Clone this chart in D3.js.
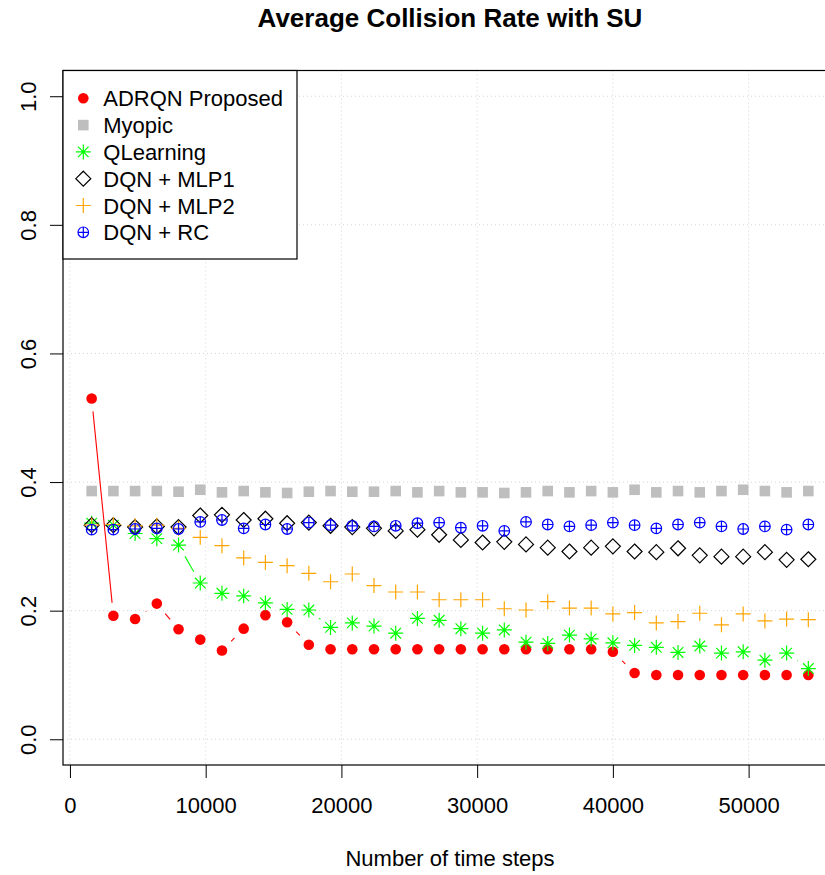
<!DOCTYPE html>
<html>
<head>
<meta charset="utf-8">
<script src="https://cdn.jsdelivr.net/npm/d3@7"></script>
<style>
  body { margin: 0; background: #fff; }
  svg text { font-family: "Liberation Sans", Arial, Helvetica, sans-serif; fill: #000; }
</style>
</head>
<body>
<div id="chart"></div>
<script>
// time steps on the x axis
const steps = [1600, 3200, 4800, 6400, 8000, 9600, 11200, 12800, 14400, 16000,
  17600, 19200, 20800, 22400, 24000, 25600, 27200, 28800, 30400, 32000,
  33600, 35200, 36800, 38400, 40000, 41600, 43200, 44800, 46400, 48000,
  49600, 51200, 52800, 54400];

const adrqn = [0.530, 0.192, 0.187, 0.211, 0.171, 0.155, 0.138, 0.172, 0.193, 0.182,
  0.147, 0.140, 0.140, 0.140, 0.140, 0.140, 0.140, 0.140, 0.140, 0.140,
  0.140, 0.140, 0.140, 0.140, 0.136, 0.103, 0.100, 0.100, 0.100, 0.100,
  0.100, 0.100, 0.100, 0.100];

const myopic = [0.386, 0.386, 0.386, 0.386, 0.385, 0.388, 0.384, 0.386, 0.384, 0.383,
  0.385, 0.386, 0.385, 0.385, 0.386, 0.384, 0.386, 0.384, 0.384, 0.383,
  0.384, 0.386, 0.384, 0.386, 0.384, 0.388, 0.384, 0.386, 0.384, 0.386,
  0.388, 0.386, 0.384, 0.386];

const qlearning = [0.336, 0.333, 0.320, 0.312, 0.302, 0.243, 0.227, 0.223, 0.212, 0.202,
  0.201, 0.174, 0.181, 0.176, 0.165, 0.188, 0.185, 0.172, 0.165, 0.170,
  0.151, 0.149, 0.162, 0.156, 0.150, 0.146, 0.143, 0.135, 0.145, 0.134,
  0.136, 0.123, 0.134, 0.110];

const mlp1 = [0.333, 0.333, 0.330, 0.331, 0.330, 0.348, 0.349, 0.341, 0.343, 0.336,
  0.337, 0.332, 0.330, 0.328, 0.324, 0.326, 0.318, 0.310, 0.306, 0.307,
  0.303, 0.298, 0.292, 0.298, 0.300, 0.292, 0.291, 0.297, 0.286, 0.284,
  0.284, 0.291, 0.279, 0.280];

const mlp2 = [0.333, 0.334, 0.332, 0.333, 0.328, 0.314, 0.301, 0.282, 0.275, 0.270,
  0.258, 0.245, 0.257, 0.239, 0.229, 0.229, 0.217, 0.217, 0.217, 0.203,
  0.201, 0.214, 0.204, 0.204, 0.195, 0.197, 0.181, 0.183, 0.196, 0.178,
  0.195, 0.184, 0.187, 0.186];

const rc = [0.326, 0.326, 0.327, 0.328, 0.327, 0.338, 0.341, 0.328, 0.334, 0.327,
  0.337, 0.333, 0.332, 0.331, 0.332, 0.336, 0.337, 0.329, 0.332, 0.324,
  0.338, 0.334, 0.331, 0.333, 0.337, 0.333, 0.328, 0.334, 0.337, 0.331,
  0.327, 0.331, 0.326, 0.334];

const seriesNames = ["ADRQN Proposed", "Myopic", "QLearning", "DQN + MLP1", "DQN + MLP2", "DQN + RC"];
const seriesValues = [adrqn, myopic, qlearning, mlp1, mlp2, rc];
const seriesColors = ["#FF0000", "#BEBEBE", "#00FF00", "#000000", "#FFA500", "#0000FF"];
const seriesShapes = ["dot", "square", "asterisk", "diamond", "plus", "circleplus"];

const xTicks = [0, 10000, 20000, 30000, 40000, 50000];
const yTicks = [0, 0.2, 0.4, 0.6, 0.8, 1.0];

const W = 825, H = 875;
const plot = { left: 63, right: 837, top: 70.5, bottom: 765 };

const svg = d3.select("#chart").append("svg")
  .attr("width", W)
  .attr("height", H);

const x = d3.scaleLinear().domain([-512, 56512]).range([plot.left, plot.right]);
const y = d3.scaleLinear().domain([-0.04, 1.04]).range([plot.bottom, plot.top]);

// grid
svg.append("g").selectAll("line")
  .data(xTicks)
  .enter().append("line")
  .attr("x1", d => x(d)).attr("x2", d => x(d))
  .attr("y1", plot.top).attr("y2", plot.bottom)
  .attr("stroke", "#D3D3D3")
  .attr("stroke-dasharray", "1,3");

svg.append("g").selectAll("line")
  .data(yTicks)
  .enter().append("line")
  .attr("x1", plot.left).attr("x2", plot.right)
  .attr("y1", d => y(d)).attr("y2", d => y(d))
  .attr("stroke", "#D3D3D3")
  .attr("stroke-dasharray", "1,3");

// axes
const xAxis = svg.append("g")
  .attr("transform", `translate(0,${plot.bottom})`)
  .call(d3.axisBottom(x).tickValues(xTicks).tickFormat(d3.format("d"))
    .tickSize(13).tickPadding(19));
xAxis.select(".domain").remove();
xAxis.selectAll("line").attr("stroke", "#000");
xAxis.selectAll("text").style("font-size", "22px");

const yAxis = svg.append("g")
  .attr("transform", `translate(${plot.left},0)`)
  .call(d3.axisLeft(y).tickValues(yTicks).tickFormat(d3.format(".1f")).tickSize(13));
yAxis.select(".domain").remove();
yAxis.selectAll("line").attr("stroke", "#000");
yAxis.selectAll("text")
  .attr("x", 0)
  .attr("y", -27)
  .attr("dy", 0)
  .attr("transform", "rotate(-90)")
  .style("text-anchor", "middle")
  .style("font-size", "22px");

// type "b" lines: segments with a gap around each point
const gap = 13;
function drawGappedLine(g, vals, color) {
  for (let i = 0; i < vals.length - 1; i++) {
    const x1 = x(steps[i]), y1 = y(vals[i]);
    const x2 = x(steps[i + 1]), y2 = y(vals[i + 1]);
    const dist = Math.hypot(x2 - x1, y2 - y1);
    if (dist <= 2 * gap) continue;
    const ux = (x2 - x1) / dist, uy = (y2 - y1) / dist;
    g.append("line")
      .attr("x1", x1 + ux * gap).attr("y1", y1 + uy * gap)
      .attr("x2", x2 - ux * gap).attr("y2", y2 - uy * gap)
      .attr("stroke", color)
      .attr("stroke-width", 1.1);
  }
}

const R = 5.3;            // circle radius
const L = R * Math.SQRT2; // cross / diamond half size

function drawMarker(g, shape, cx, cy, color) {
  if (shape === "dot") {
    g.append("circle").attr("cx", cx).attr("cy", cy).attr("r", R).attr("fill", color);
  } else if (shape === "square") {
    g.append("rect").attr("x", cx - R).attr("y", cy - R)
      .attr("width", 2 * R).attr("height", 2 * R).attr("fill", color);
  } else if (shape === "asterisk") {
    const d = L / Math.SQRT2;
    g.append("path")
      .attr("d", `M${cx - L},${cy}H${cx + L}M${cx},${cy - L}V${cy + L}` +
        `M${cx - d},${cy - d}L${cx + d},${cy + d}M${cx - d},${cy + d}L${cx + d},${cy - d}`)
      .attr("stroke", color).attr("stroke-width", 1.2).attr("fill", "none");
  } else if (shape === "diamond") {
    g.append("path")
      .attr("d", `M${cx},${cy - L}L${cx + L},${cy}L${cx},${cy + L}L${cx - L},${cy}Z`)
      .attr("stroke", color).attr("stroke-width", 1.2).attr("fill", "none");
  } else if (shape === "plus") {
    g.append("path")
      .attr("d", `M${cx - L},${cy}H${cx + L}M${cx},${cy - L}V${cy + L}`)
      .attr("stroke", color).attr("stroke-width", 1.2).attr("fill", "none");
  } else if (shape === "circleplus") {
    g.append("circle").attr("cx", cx).attr("cy", cy).attr("r", R)
      .attr("stroke", color).attr("stroke-width", 1.2).attr("fill", "none");
    g.append("path")
      .attr("d", `M${cx - R},${cy}H${cx + R}M${cx},${cy - R}V${cy + R}`)
      .attr("stroke", color).attr("stroke-width", 1.2).attr("fill", "none");
  }
}

const marks = svg.append("g");
seriesValues.forEach((vals, s) => {
  const g = marks.append("g");
  drawGappedLine(g, vals, seriesColors[s]);
  vals.forEach((v, i) => drawMarker(g, seriesShapes[s], x(steps[i]), y(v), seriesColors[s]));
});

// plot frame
svg.append("rect")
  .attr("x", plot.left).attr("y", plot.top)
  .attr("width", plot.right - plot.left).attr("height", plot.bottom - plot.top)
  .attr("fill", "none").attr("stroke", "#000").attr("stroke-width", 1.2);

// legend
const legend = svg.append("g");
legend.append("rect")
  .attr("x", plot.left).attr("y", plot.top)
  .attr("width", 234).attr("height", 188.5)
  .attr("fill", "#fff").attr("stroke", "#000").attr("stroke-width", 1.2);

seriesNames.forEach((name, s) => {
  const ry = 98.3 + s * 26.8;
  drawMarker(legend, seriesShapes[s], 83.3, ry, seriesColors[s]);
  legend.append("text")
    .attr("x", 103.3).attr("y", ry + 8)
    .style("font-size", "22px")
    .text(name);
});

// titles
svg.append("text")
  .attr("x", (plot.left + plot.right) / 2).attr("y", 27)
  .attr("text-anchor", "middle")
  .style("font-size", "26px").style("font-weight", "bold")
  .text("Average Collision Rate with SU");

svg.append("text")
  .attr("x", (plot.left + plot.right) / 2).attr("y", 866)
  .attr("text-anchor", "middle")
  .style("font-size", "22px")
  .text("Number of time steps");
</script>
</body>
</html>
